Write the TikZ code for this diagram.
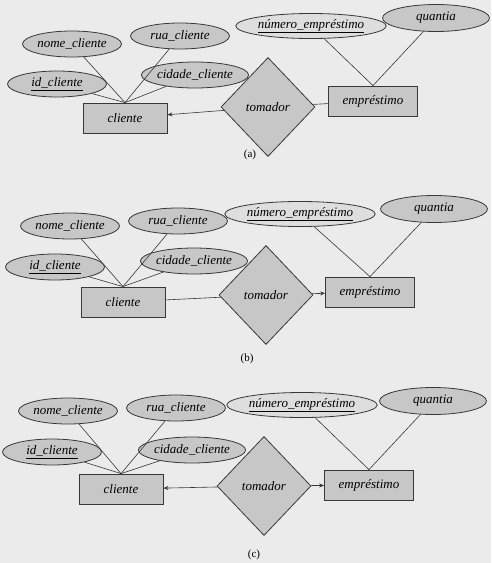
\documentclass[tikz,border=0pt]{standalone}
\usepackage{fontspec}
\setmainfont{Liberation Serif}
\usepackage{tikz}
\usetikzlibrary{positioning, shapes.geometric, arrows.meta}

\definecolor{pagina}{gray}{0.92}
\definecolor{cinza}{gray}{0.78}
\definecolor{cinzaclaro}{gray}{0.87}
\definecolor{borda}{gray}{0.22}

\tikzset{
  erfont/.style={font=\itshape\fontsize{13}{15}\selectfont},
  attr/.style={ellipse, draw=borda, fill=cinza, line width=0.8pt, inner sep=0pt,
               minimum width=99pt, minimum height=26pt, erfont},
  chave/.style={attr, fill=cinzaclaro, minimum width=125pt, minimum height=25pt},
  valor/.style={attr, minimum width=107pt, minimum height=27pt},
  entidade/.style={rectangle, draw=borda, fill=cinza, line width=0.8pt, inner sep=0pt,
                   minimum width=84pt, minimum height=30pt, erfont},
  relacao/.style={diamond, draw=borda, fill=cinza, line width=0.8pt, inner sep=0pt,
                  minimum width=94pt, minimum height=99pt, erfont},
  liga/.style={draw=borda, line width=0.6pt},
  seta/.style={liga, -{Stealth[length=5pt, width=4pt]}},
  legenda/.style={font=\fontsize{11}{13}\selectfont}
}

\begin{document}
\begin{tikzpicture}[x=1pt, y=-1pt]
  \fill[pagina] (0,0) rectangle (491,563);
  \useasboundingbox (0,0) rectangle (491,563);

  % (a)
  \node[attr] (nomeA) at (72,44) {nome\_cliente};
  \node[attr] (ruaA) at (180,36) {rua\_cliente};
  \node[attr] (idA) at (57,84) {\underline{id\_cliente}};
  \node[attr] (cidA) at (195,75) {cidade\_cliente};
  \node[entidade] (cliA) at (125,118) {cliente};
  \node[relacao] (tomA) at (268,107) {tomador};
  \node[entidade, minimum width=89pt] (empA) at (373,101) {empréstimo};
  \node[chave] (numA) at (311,26) {\underline{número\_empréstimo}};
  \node[valor] (quaA) at (436,18) {quantia};
  \node[legenda] (legA) at (250,155) {(a)};
  \foreach \a in {nomeA, ruaA, idA, cidA}
    \draw[liga] (\a) -- (cliA.north);
  \foreach \a in {numA, quaA}
    \draw[liga] (\a) -- (empA.north);
  \draw[seta] (tomA) -- (cliA);
  \draw[liga] (tomA) -- (empA);

  % (b)
  \node[attr] (nomeB) at (70,226) {nome\_cliente};
  \node[attr] (ruaB) at (178,221) {rua\_cliente};
  \node[attr] (idB) at (55,267) {\underline{id\_cliente}};
  \node[attr] (cidB) at (194,261) {cidade\_cliente};
  \node[entidade] (cliB) at (123,302) {cliente};
  \node[relacao] (tomB) at (266,295) {tomador};
  \node[entidade, minimum width=89pt] (empB) at (370,292) {empréstimo};
  \node[chave] (numB) at (300,214) {\underline{número\_empréstimo}};
  \node[valor] (quaB) at (434,209) {quantia};
  \node[legenda] (legB) at (247,359) {(b)};
  \foreach \a in {nomeB, ruaB, idB, cidB}
    \draw[liga] (\a) -- (cliB.north);
  \foreach \a in {numB, quaB}
    \draw[liga] (\a) -- (empB.north);
  \draw[liga] (tomB) -- (cliB);
  \draw[seta] (tomB) -- (empB);

  % (c)
  \node[attr] (nomeC) at (68,411) {nome\_cliente};
  \node[attr] (ruaC) at (176,408) {rua\_cliente};
  \node[attr] (idC) at (52,452) {\underline{id\_cliente}};
  \node[attr] (cidC) at (192,450) {cidade\_cliente};
  \node[entidade] (cliC) at (121,489) {cliente};
  \node[relacao] (tomC) at (264,486) {tomador};
  \node[entidade, minimum width=89pt] (empC) at (369,485) {empréstimo};
  \node[chave] (numC) at (302,405) {\underline{número\_empréstimo}};
  \node[valor] (quaC) at (433,401) {quantia};
  \node[legenda] (legC) at (254,555) {(c)};
  \foreach \a in {nomeC, ruaC, idC, cidC}
    \draw[liga] (\a) -- (cliC.north);
  \foreach \a in {numC, quaC}
    \draw[liga] (\a) -- (empC.north);
  \draw[seta] (tomC) -- (cliC);
  \draw[seta] (tomC) -- (empC);
\end{tikzpicture}
\end{document}
